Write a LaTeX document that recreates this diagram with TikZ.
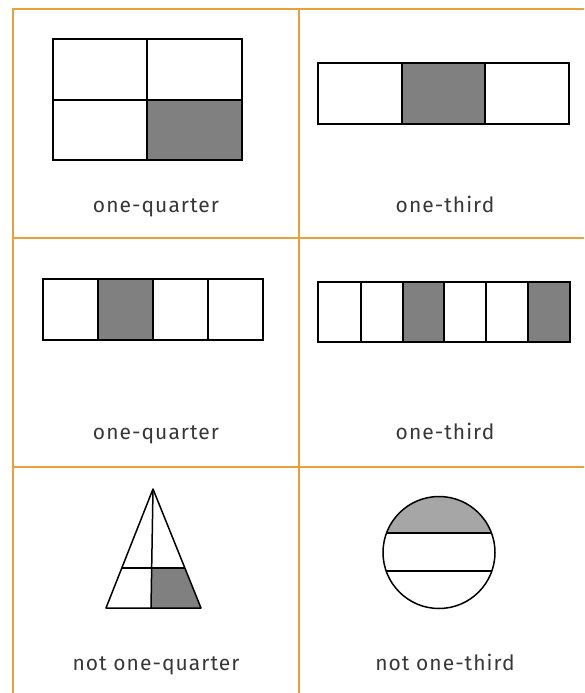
\documentclass[tikz,border=0pt]{standalone}
\usepackage{fontspec}
\newfontfamily\labelfont[LetterSpace=5]{Fira Sans}
\usepackage{tikz}
\usepackage{xcolor}
\usetikzlibrary{calc}
\definecolor{gridorange}{RGB}{232,160,58}
\definecolor{partgray}{RGB}{128,128,128}
\definecolor{partlight}{RGB}{166,166,166}
\definecolor{labelgray}{RGB}{55,55,55}

\begin{document}
\begin{tikzpicture}[x=1pt,y=-1pt,every node/.style={font=\labelfont\fontsize{21}{24}\selectfont,text=labelgray,anchor=base,inner sep=0pt}]
  \tikzset{
    gridline/.style={draw=gridorange,line width=2pt},
    part/.style={draw=black,line width=1.5pt},
    shaded/.style={fill=partgray},
    lightshaded/.style={fill=partlight}
  }
  \useasboundingbox (0,0) rectangle (584,693);
  % grid
  \draw[gridline] (13,693) -- (13,9) -- (584,9);
  \draw[gridline] (299,9) -- (299,693);
  \draw[gridline] (13,238) -- (584,238);
  \draw[gridline] (13,467) -- (584,467);
  % one-quarter, 2x2
  \fill[shaded] (147,100) rectangle (242,160);
  \draw[part] (53,39) rectangle (242,160);
  \draw[part] (147,39) -- (147,160) (53,100) -- (242,100);
  \node (q1) at (156,212) {one-quarter};
  % one-third, 3 parts
  \fill[shaded] (402,63) rectangle (485,124);
  \draw[part] (318,63) rectangle (569,124);
  \draw[part] (402,63) -- (402,124) (485,63) -- (485,124);
  \node (t1) at (445,212) {one-third};
  % one-quarter, 4 parts
  \fill[shaded] (98,279) rectangle (153,340);
  \draw[part] (43,279) rectangle (263,340);
  \foreach \x in {98,153,208}
    \draw[part] (\x,279) -- (\x,340);
  \node (q2) at (156,439) {one-quarter};
  % one-third, 6 parts
  \fill[shaded] (403,282) rectangle (444,342);
  \fill[shaded] (528,282) rectangle (570,342);
  \draw[part] (318,282) rectangle (570,342);
  \foreach \x in {361,403,444,486,528}
    \draw[part] (\x,282) -- (\x,342);
  \node (t2) at (445,439) {one-third};
  % triangle
  \fill[shaded] (151,568) -- (184.5,568) -- (201,608) -- (151,608) -- cycle;
  \draw[part,line join=round] (153,489) -- (201,608) -- (106,608) -- cycle;
  \draw[part] (153,489) -- (151,608);
  \draw[part] (122,568) -- (184.5,568);
  \node (q3) at (156,670) {not one-quarter};
  % circle
  \begin{scope}
    \clip (439,552.5) circle (56);
    \fill[lightshaded] (380,490) rectangle (500,533);
  \end{scope}
  \draw[part] (439,552.5) circle (56);
  \draw[part] (439,552.5) ++({-sqrt(56*56-19.5*19.5)},-19.5) -- ++({2*sqrt(56*56-19.5*19.5)},0);
  \draw[part] (439,552.5) ++({-sqrt(56*56-18.5*18.5)},18.5) -- ++({2*sqrt(56*56-18.5*18.5)},0);
  \node (t3) at (445,670) {not one-third};
\end{tikzpicture}
\end{document}
